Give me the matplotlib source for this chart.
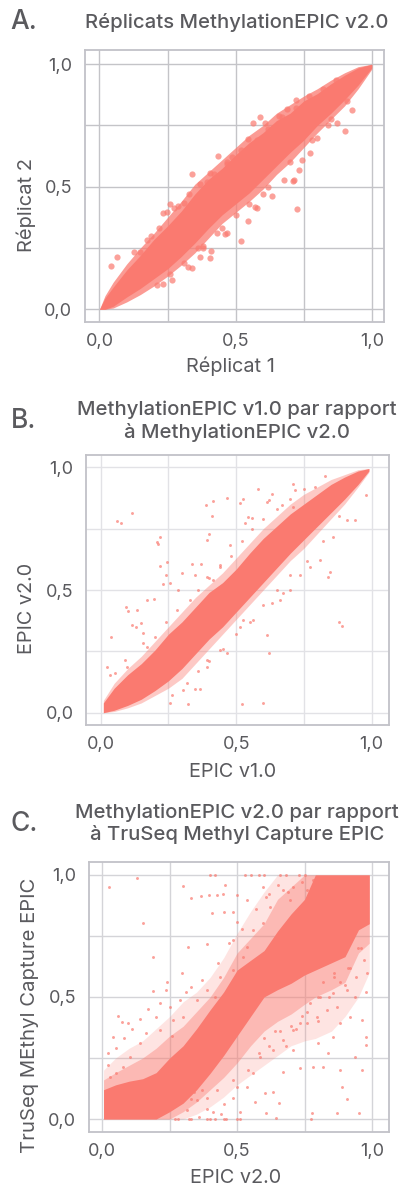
"""Three methylation replicate scatter panels (French labels)."""
import matplotlib
matplotlib.use("Agg")
import matplotlib.pyplot as plt

W, H = 403, 1190
plt.rcParams.update({"font.family": ["Inter", "DejaVu Sans"], "axes.axisbelow": True})
CLR = "#FA7A70"
TXT = "#5A5A5E"

TICKS = [0, 0.5, 1]
TICK_LABELS = ["0,0", "0,5", "1,0"]
GRID = [0, 0.25, 0.5, 0.75, 1]

# dense band envelopes (solid core + sparser outer zones)
a_x = [0, .02, .05, .1, .15, .2, .25, .3, .35, .4, .45, .5, .55, .6, .65, .7, .75, .8, .85, .9, .95, 1.0]
a_lo = [0, 0, .012, .05, .085, .125, .165, .215, .27, .33, .385, .43, .475, .53, .585, .64, .69, .75, .80, .855, .915, .985]
a_hi = [0, .045, .09, .16, .22, .285, .34, .40, .47, .53, .575, .63, .68, .72, .77, .80, .85, .88, .92, .955, .985, 1.0]
a_lo2 = [0, 0, .005, .03, .06, .095, .135, .18, .23, .29, .35, .395, .44, .49, .55, .60, .66, .72, .775, .83, .90, .98]
a_hi2 = [0, .055, .11, .185, .25, .31, .375, .44, .51, .56, .61, .66, .71, .75, .80, .835, .87, .90, .935, .965, .99, 1.0]

b_x = [.01, .05, .1, .15, .2, .25, .3, .35, .4, .45, .5, .55, .6, .65, .7, .75, .8, .85, .9, .95, .99]
b_lo = [0, .01, .03, .055, .09, .13, .18, .24, .30, .35, .41, .47, .53, .59, .65, .705, .76, .815, .87, .93, .985]
b_hi = [.04, .10, .155, .20, .255, .32, .37, .43, .49, .53, .585, .65, .71, .76, .81, .85, .89, .93, .96, .985, .995]
b_lo2 = [0, .005, .02, .04, .07, .10, .14, .20, .26, .32, .38, .44, .50, .56, .62, .67, .73, .79, .85, .92, .98]
b_hi2 = [.05, .12, .18, .23, .29, .35, .41, .47, .52, .57, .63, .69, .75, .80, .85, .89, .92, .95, .97, .99, .995]

c_x = [.005, .05, .1, .15, .2, .25, .3, .35, .4, .45, .5, .55, .6, .65, .7, .75, .79, .85, .9, .95, .99]
c_lo = [0, 0, 0, 0, 0, .03, .065, .12, .187, .26, .34, .42, .50, .53, .556, .59, .61, .64, .665, .775, .80]
c_hi = [.12, .14, .155, .165, .19, .25, .30, .37, .447, .52, .61, .65, .69, .77, .84, .90, 1, 1, 1, 1, 1]
c_lo2 = [0, 0, 0, 0, 0, 0, .03, .07, .12, .17, .23, .30, .36, .40, .43, .47, .50, .53, .56, .68, .72]
c_hi2 = [.16, .19, .22, .25, .29, .34, .38, .44, .50, .58, .68, .74, .80, .90, .95, 1, 1, 1, 1, 1, 1]
c_lo3 = [0, 0, 0, 0, 0, 0, 0, .02, .05, .09, .14, .18, .22, .26, .30, .32, .33, .36, .42, .50, .60]
c_hi3 = [.2, .25, .29, .32, .37, .42, .48, .52, .58, .66, .76, .85, .93, 1, 1, 1, 1, 1, 1, 1, 1]

# scattered points
a_px = [.042, .065, .34, .436, .725, .521, .90, .927, .572, .578, .545, .633, .716, .712, .26, .235, .248, .275,
        .266, .233, .324, .339, .409, .406, .37, .565, .59, .608, .547, .486, .468, .406, .394, .31, .125, .174,
        .688, .722, .774, .743, .731, .676, .468, .461, .382, .871, .64, .66, .60, .80, .84, .45, .36,
        .15, .19, .22, .29, .33, .37, .42, .47, .52, .58, .62, .67, .72, .77, .82, .87, .21, .26, .31, .38, .43,
        .50, .55, .62, .70, .78, .85, .91]
a_py = [.178, .212, .552, .627, .41, .278, .729, .812, .416, .412, .359, .461, .527, .522, .43, .392, .395, .412,
        .12, .103, .171, .167, .239, .211, .213, .762, .786, .759, .694, .623, .592, .555, .521, .433, .235, .283,
        .816, .852, .637, .61, .569, .528, .31, .306, .249, .759, .74, .79, .47, .70, .75, .33, .25,
        .235, .30, .33, .42, .47, .51, .55, .60, .65, .69, .735, .785, .82, .87, .90, .935, .10, .145, .19, .26, .31,
        .385, .43, .50, .60, .69, .775, .85]

b_px = [.06, .076, .116, .209, .219, .213, .038, .025, .093, .102, .135, .17, .198, .148, .114, .13, .219, .246,
        .231, .24, .256, .287, .336, .37, .30, .389, .416, .412, .467, .514, .524, .582, .632, .622, .401, .391,
        .533, .545, .557, .477, .44, .416, .391, .348, .881, .889, .846, .84, .613, .622, .523, .60, .323, .256,
        .262, .348, .367, .305, .391, .391, .44, .465, .514, .526, .563, .631, .662, .674, .699, .736, .772, .809,
        .859, .908, .938, .979, .711, .717, .828, .791, .668, .711, .613, .17, .157, .157, .096, .09, .053, .034,
        .20, .24, .28, .33, .36, .40, .44, .48, .52, .56, .60, .65, .70, .75, .32, .36, .40, .45, .50, .55, .60,
        .65, .70, .76, .82, .88]
b_py = [.78, .773, .813, .696, .715, .686, .307, .188, .429, .416, .418, .459, .463, .364, .357, .348, .598, .614,
        .524, .561, .53, .5, .606, .605, .571, .846, .863, .802, .876, .853, .871, .913, .89, .867, .728, .704,
        .772, .799, .795, .683, .595, .541, .554, .561, .37, .353, .572, .552, .317, .245, .035, .038, .034, .038,
        .072, .095, .095, .092, .188, .215, .255, .242, .351, .378, .378, .446, .459, .486, .50, .561, .595, .622,
        .717, .785, .785, .887, .931, .908, .965, .921, .846, .84, .86, .269, .283, .323, .188, .215, .16, .154,
        .31, .37, .42, .46, .50, .55, .60, .64, .70, .75, .79, .83, .87, .91, .12, .17, .21, .26, .32, .37, .44,
        .50, .56, .62, .70, .80]

c_px = [.027, .129, .153, .19, .189, .059, .299, .328, .366, .397, .424, .449, .455, .319, .387, .408, .451, .486,
        .498, .535, .597, .609, .671, .696, .294, .239, .235, .288, .331, .214, .201, .096, .072, .041, .022, .978,
        .937, .962, .978, .978, .937, .962, .881, .888, .909, .953, .871, .776, .773, .782, .817, .857, .881, .918,
        .838, .801, .733, .671, .634, .603, .656, .606, .646, .566, .51, .486, .708, .758, .795, .832, .869, .906,
        .857, .807, .77, .733, .708, .671, .634, .585, .56, .535, .486, .424, .387, .313, .35, .486, .436, .387,
        .35, .3, .263, .214, .164, .14, .103, .053, .028, .078, .523, .486, .498, .56, .535, .597, .622, .684,
        .659, .733, .758, .708, .27, .28, .32, .33, .39, .40, .42, .45, .46, .50, .51, .40, .42, .53, .55, .58,
        .60, .66, .68, .73, .75, .29, .34, .37, .26, .42, .60, .64, .68, .72, .76, .80, .84, .88, .92, .96,
        .02, .05, .08, .11, .14, .17, .25, .31, .37, .43, .47, .52, .57, .62, .65, .69, .74, .78, .82, .86, .90, .94,
        .97, .98, .95, .91, .86, .80, .74, .70, .66, .62, .58, .54, .50, .45, .41, .36, .33, .30, .39, .44]
c_py = [.949, .986, .803, .665, .525, .422, .955, .907, .913, .919, .919, .921, .959, .706, .716, .843, .846, .85,
        .918, .898, .952, .911, .939, .898, .597, .563, .529, .488, .542, .474, .419, .392, .399, .337, .269, .522,
        .501, .406, .337, .303, .255, .2, .2, .133, .081, .026, .026, .026, 0, .214, .214, .337, .392, .419,
        .269, .31, .208, .194, .112, .105, .064, .023, .003, .071, .03, .085, .283, .392, .419, .447, .46, .529,
        .515, .501, .474, .392, .365, .324, .283, .255, .187, .133, .16, .119, .085, .037, .078, .611, .583, .529,
        .488, .419, .406, .365, .351, .31, .255, .187, .173, .214, .665, .734, .809, .775, .706, .802, .87, .802,
        .747, .87, .939, .952, 0, 0, 0, 0, 0, 0, 0, 0, 0, 0, 0, 1, 1, 1, 1, 1,
        1, 1, 1, 1, 1, .07, .11, .12, .34, .50, .33, .36, .30, .37, .44, .40, .50, .56, .62, .70,
        .22, .29, .33, .37, .41, .45, .46, .52, .57, .64, .72, .78, .86, .92, .96, .93, .97, .98, .56, .60, .55, .58,
        .65, .60, .70, .62, .58, .50, .42, .38, .36, .30, .27, .20, .13, .06, .03, .01, .08, .12, .04, .02]


def box(l, t, r, b):
    return [l / W, 1 - b / H, (r - l) / W, (b - t) / H]


def panel(rect, xlim, ylim, xs, layers, pts, size, grid_c, xlabel, ylabel, ylab_fs, xc, ylc):
    ax = fig.add_axes(box(*rect))
    for lo, hi, alpha in layers:
        ax.fill_between(xs, lo, hi, color=CLR, lw=0, alpha=alpha, zorder=3)
    ax.scatter(pts[0], pts[1], s=size, color=CLR, alpha=0.7, lw=0, zorder=3, clip_on=False)
    ax.set_xlim(xlim); ax.set_ylim(ylim)
    ax.set_xticks(GRID); ax.set_yticks(GRID)
    ax.set_xticklabels([TICK_LABELS[TICKS.index(v)] if v in TICKS else "" for v in GRID])
    ax.set_yticklabels([TICK_LABELS[TICKS.index(v)] if v in TICKS else "" for v in GRID])
    ax.tick_params(length=0, labelsize=13, labelcolor=TXT)
    ax.tick_params(axis="x", pad=8)
    ax.tick_params(axis="y", pad=9)
    ax.grid(True, color=grid_c, lw=1)
    for s in ax.spines.values():
        s.set_color("#C2C2C8"); s.set_linewidth(1.3)
    ax.set_xlabel(xlabel, fontsize=14.3, color=TXT, va="center")
    ax.set_ylabel(ylabel, fontsize=ylab_fs, color=TXT, va="center")
    ax.xaxis.set_label_coords(xc[0], xc[1])
    ax.yaxis.set_label_coords(-.196, ylc)
    return ax


def label(x, y, s, **kw):
    fig.text(x / W, 1 - y / H, s, va="center", **kw)


fig = plt.figure(figsize=(W / 100, H / 100), dpi=100)

panel((84.7, 50, 384.3, 322), (-.0543, 1.046), (-.052, 1.058), a_x,
      [(a_lo2, a_hi2, .75), (a_lo, a_hi, 1)], (a_px, a_py), 20,
      "#C4C4C8", "Réplicat 1", "Réplicat 2", 14.5, (.488, -.162), .43)
panel((86, 455, 388.7, 725), (-.054, 1.063), (-.05, 1.05), b_x,
      [(b_lo2, b_hi2, .4), (b_lo, b_hi, 1)], (b_px, b_py), 4.5,
      "#E2E2E6", "EPIC v1.0", "EPIC v2.0", 14.3, (.486, -.174), .433)
panel((88.7, 861.7, 388.7, 1131.7), (-.05, 1.062), (-.052, 1.054), c_x,
      [(c_lo3, c_hi3, .2), (c_lo2, c_hi2, .4), (c_lo, c_hi, 1)], (c_px, c_py), 4.5,
      "#D4D4D8", "EPIC v2.0", "TruSeq MEthyl Capture EPIC", 14.6, (.49, -.171), .432)

TITLE = dict(ha="center", fontsize=14.6, color=TXT, fontweight=500)
LETTER = dict(ha="left", fontsize=19, color=TXT, fontweight=500)
label(237, 22, "Réplicats MethylationEPIC v2.0", **TITLE)
label(237, 410, "MethylationEPIC v1.0 par rapport", **TITLE)
label(237, 432, "à MethylationEPIC v2.0", **TITLE)
label(237, 813, "MethylationEPIC v2.0 par rapport", **TITLE)
label(237, 834, "à TruSeq Methyl Capture EPIC", **TITLE)
label(10, 22, "A.", **LETTER)
label(11, 421, "B.", **LETTER)
label(10, 824, "C.", **LETTER)

fig.savefig("out.png", dpi=100)
